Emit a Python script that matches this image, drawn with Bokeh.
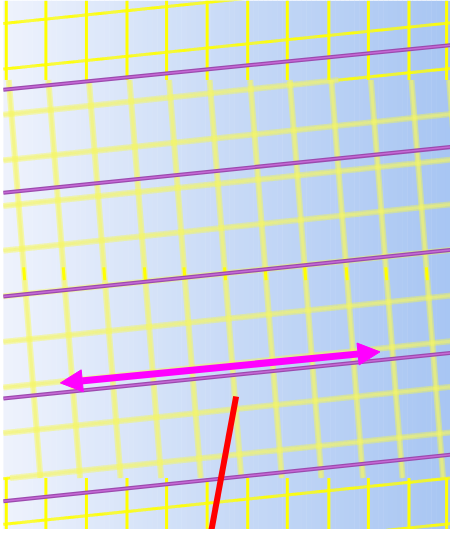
import numpy as np
from bokeh.plotting import figure
from bokeh.models import Arrow, NormalHead, Range1d
from bokeh.embed import file_html
from bokeh.resources import INLINE

# ---- data (image pixel coordinates) ----
purple_y_left = [92, 198, 305, 410, 516]      # purple lines at x = 0
purple_y_right = [46, 151, 257, 363, 468]     # purple lines at x = 466
grid_h_left = [24, 71, 118, 165, 212, 258, 305, 352, 399, 446, 493, 540, 587]  # grid rows at x = 0
grid_h_slope = -0.103
grid_v_x = [6, 47, 89, 131, 172, 214, 256, 297, 340, 381, 423, 462]  # grid columns
pale_tilt = 0.08
crisp_top_limit = 82
crisp_bottom_limit = 492
strip_y = [275, 288]
arrow_left = (62, 394)
arrow_right = (393, 362)
red_line_x = [244, 218]
red_line_y = [408, 548]

W, H = 466, 545

p = figure(width=450, height=529, x_range=Range1d(0, W), y_range=Range1d(H, 0),
           output_backend="svg", toolbar_location=None, min_border=0,
           x_axis_location=None, y_axis_location=None)
p.grid.visible = False
p.outline_line_color = None
p.background_fill_color = "white"
p.border_fill_color = "white"

# white strip on the far left, then background gradient (white-blue to light blue)
stops_x = [3, 233, 466]
stops_c = [(0xEF, 0xF3, 0xFD), (0xC9, 0xDB, 0xF7), (0xA8, 0xC6, 0xF3)]
edges = np.linspace(3, W, 94)
cols = []
for a, b in zip(edges[:-1], edges[1:]):
    m = (a + b) / 2
    r = np.interp(m, stops_x, [c[0] for c in stops_c])
    g = np.interp(m, stops_x, [c[1] for c in stops_c])
    bl = np.interp(m, stops_x, [c[2] for c in stops_c])
    cols.append("#%02x%02x%02x" % (int(r), int(g), int(bl)))
p.quad(left=edges[:-1], right=edges[1:] + 0.5, bottom=H, top=0, fill_color=cols, line_color=None)

# horizontal grid lines split into crisp / pale parts
pale_x0, pale_y0, pale_x1, pale_y1 = [], [], [], []
crisp_x0, crisp_y0, crisp_x1, crisp_y1 = [], [], [], []
for c in grid_h_left:
    xs = np.linspace(3, W, 464)
    ys = c + grid_h_slope * xs
    for i in range(len(xs) - 1):
        ym = (ys[i] + ys[i + 1]) / 2
        if crisp_top_limit <= ym <= crisp_bottom_limit:
            pale_x0.append(xs[i]); pale_y0.append(ys[i]); pale_x1.append(xs[i + 1]); pale_y1.append(ys[i + 1])
        elif ym < crisp_top_limit or (ym > crisp_bottom_limit and (c != 493 or xs[i] < 90)):
            crisp_x0.append(xs[i]); crisp_y0.append(ys[i]); crisp_x1.append(xs[i + 1]); crisp_y1.append(ys[i + 1])

# pale (blurred) verticals, tilted
for x0 in grid_v_x:
    pale_x0.append(x0 + pale_tilt * (crisp_top_limit - 50)); pale_y0.append(crisp_top_limit)
    pale_x1.append(x0 + pale_tilt * (crisp_bottom_limit - 50)); pale_y1.append(crisp_bottom_limit)

p.segment(pale_x0, pale_y0, pale_x1, pale_y1, line_color="#FFFF30", line_alpha=0.4, line_width=6)
p.segment(pale_x0, pale_y0, pale_x1, pale_y1, line_color="#F4F470", line_alpha=0.55, line_width=3)

# crisp verticals, top and bottom
for x0 in grid_v_x:
    crisp_x0.append(x0); crisp_y0.append(0); crisp_x1.append(x0); crisp_y1.append(crisp_top_limit)
    crisp_x0.append(x0); crisp_y0.append(crisp_bottom_limit); crisp_x1.append(x0); crisp_y1.append(H)
    xs = x0 + pale_tilt * (np.array(strip_y) - 50)
    crisp_x0.append(xs[0]); crisp_y0.append(strip_y[0]); crisp_x1.append(xs[1]); crisp_y1.append(strip_y[1])

p.segment(crisp_x0, crisp_y0, crisp_x1, crisp_y1, line_color="#FFFF00", line_width=3)

# purple lines
n = len(purple_y_left)
p.segment([3] * n, purple_y_left, [W] * n, purple_y_right, line_color="#9C4AAE", line_width=4)
p.segment([3] * n, purple_y_left, [W] * n, purple_y_right, line_color="#D070E0", line_width=1.5, line_alpha=0.8)

# magenta double arrow
p.add_layout(Arrow(x_start=arrow_left[0], y_start=arrow_left[1], x_end=arrow_right[0], y_end=arrow_right[1],
                   line_color="#FF00FF", line_width=7,
                   start=NormalHead(size=22, fill_color="#FF00FF", line_color="#FF00FF"),
                   end=NormalHead(size=22, fill_color="#FF00FF", line_color="#FF00FF")))

# red line
p.line(red_line_x, red_line_y, line_color="#FF0000", line_width=6)

open("out.html", "w").write(file_html(p, INLINE))
